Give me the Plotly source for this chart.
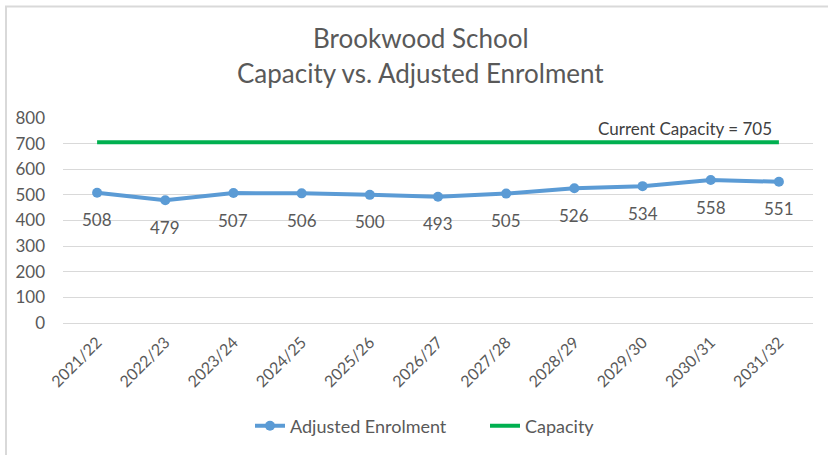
import plotly.graph_objects as go

years = ["2021/22", "2022/23", "2023/24", "2024/25", "2025/26", "2026/27",
         "2027/28", "2028/29", "2029/30", "2030/31", "2031/32"]
enrolment = [508, 479, 507, 506, 500, 493, 505, 526, 534, 558, 551]
capacity = [705] * len(years)
y_ticks = [0, 100, 200, 300, 400, 500, 600, 700, 800]

FONT = "Lato"
GREY = "#595959"

fig = go.Figure()
fig.add_trace(go.Scatter(x=years, y=enrolment, name="Adjusted Enrolment",
                         mode="lines+markers",
                         line=dict(color="#5B9BD5", width=4),
                         marker=dict(color="#5B9BD5", size=10)))
fig.add_trace(go.Scatter(x=years, y=capacity, name="Capacity", mode="lines",
                         line=dict(color="#00B050", width=4)))

# data labels under the enrolment points
for yr, v in zip(years, enrolment):
    fig.add_annotation(x=yr, y=v, text=str(v), showarrow=False, yshift=-27,
                       font=dict(family=FONT, size=17, color=GREY))

fig.add_annotation(x=years[-1], y=capacity[-1], text=f"Current Capacity = {capacity[-1]}",
                   showarrow=False, xanchor="right", yanchor="bottom", xshift=-5, yshift=1,
                   font=dict(family=FONT, size=17, color="#404040"))

# two-line title
fig.add_annotation(xref="paper", yref="paper", x=0.477, y=1.0, yshift=80, yanchor="middle",
                   text="Brookwood School", showarrow=False,
                   font=dict(family=FONT, size=26, color=GREY))
fig.add_annotation(xref="paper", yref="paper", x=0.477, y=1.0, yshift=45, yanchor="middle",
                   text="Capacity vs. Adjusted Enrolment", showarrow=False,
                   font=dict(family=FONT, size=26, color=GREY))

# chart border
fig.add_shape(type="rect", xref="paper", yref="paper",
              x0=-57 / 750, x1=1 + 20 / 750, y0=-135 / 206, y1=1 + 112 / 206,
              line=dict(color="#d9d9d9", width=2))

fig.update_layout(
    width=828, height=455,
    margin=dict(l=63, r=15, t=118, b=131),
    paper_bgcolor="white", plot_bgcolor="white",
    font=dict(family=FONT, size=16, color=GREY),
    showlegend=True,
    legend=dict(orientation="h", x=(250 - 63) / 750, xanchor="left", y=-0.495, yanchor="middle",
                entrywidth=190, font=dict(family=FONT, size=18, color=GREY)),
    xaxis=dict(type="category", range=[-0.5, 10.5], tickangle=-45, showgrid=False,
               showline=False, ticks="", ticklabelstandoff=6,
               tickfont=dict(size=16, color=GREY)),
    yaxis=dict(range=[0, 800], tickvals=y_ticks, showgrid=True, gridcolor="#d9d9d9",
               gridwidth=1, zeroline=True, zerolinecolor="#d9d9d9", zerolinewidth=1,
               ticks="", ticklabelstandoff=17, tickfont=dict(size=17, color=GREY)),
)

fig.write_html("out.html", config={"displayModeBar": False},
               post_script="document.body.style.margin='0';")
